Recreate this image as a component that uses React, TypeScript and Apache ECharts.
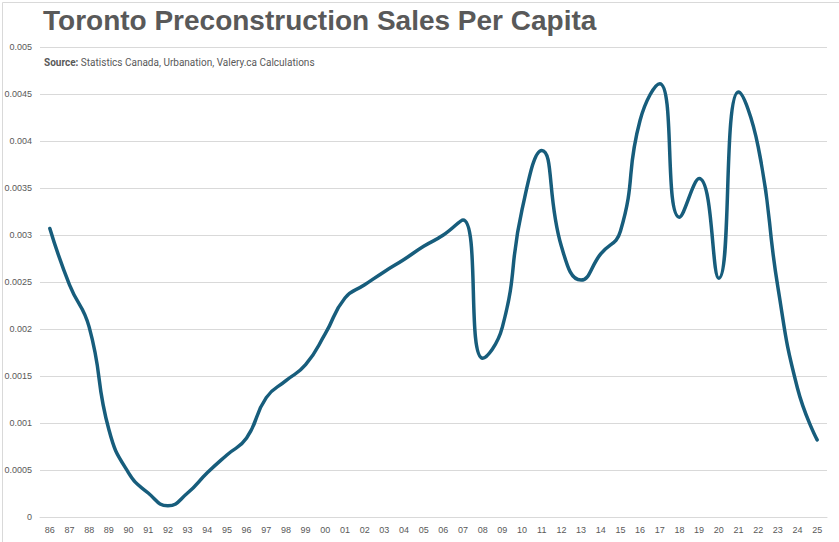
import React, { useEffect, useRef } from "react";
import * as echarts from "echarts";

const years: string[] = [
  "86", "87", "88", "89", "90", "91", "92", "93", "94", "95", "96", "97", "98", "99",
  "00", "01", "02", "03", "04", "05", "06", "07", "08", "09", "10", "11", "12", "13",
  "14", "15", "16", "17", "18", "19", "20", "21", "22", "23", "24", "25",
];

const salesPerCapita: number[] = [
  0.00307, 0.00247, 0.00202, 0.00093, 0.00047, 0.000255, 0.00012, 0.000255, 0.00047, 0.00066,
  0.00084, 0.00127, 0.00145, 0.00162, 0.00195, 0.00233, 0.00247, 0.00261, 0.00274, 0.00288,
  0.003, 0.00316, 0.00169, 0.00202, 0.00327, 0.0039, 0.00288, 0.00252, 0.0028, 0.00304,
  0.00422, 0.00461, 0.00319, 0.0036, 0.00254, 0.00452, 0.00394, 0.00245, 0.00137, 0.00082,
];

const titleText = "Toronto Preconstruction Sales Per Capita";
const sourceLabel = "Source:";
const sourceText = " Statistics Canada, Urbanation, Valery.ca Calculations";

export default function App() {
  const ref = useRef<HTMLDivElement>(null);

  useEffect(() => {
    if (!ref.current) return;
    const chart = echarts.init(ref.current, null, { renderer: "svg" });
    chart.setOption({
      animation: false,
      backgroundColor: "#ffffff",
      graphic: [
        {
          type: "rect",
          left: 0,
          top: 0,
          shape: { x: 0.5, y: 0.5, width: 838, height: 541 },
          style: { fill: "none", stroke: "#d9d9d9", lineWidth: 1 },
          silent: true,
        },
        {
          type: "text",
          left: 43,
          top: 6,
          style: {
            text: titleText,
            font: "bold 28px 'Liberation Sans', Arial, sans-serif",
            fill: "#595959",
          },
        },
        {
          type: "text",
          left: 44,
          top: 57,
          style: {
            text: "{b|" + sourceLabel + "}{n|" + sourceText + "}",
            rich: {
              b: { font: "bold 10px Roboto, sans-serif", fill: "#595959" },
              n: { font: "10px Roboto, sans-serif", fill: "#595959" },
            },
          },
        },
      ],
      grid: { left: 40, right: 12, top: 47, bottom: 25, containLabel: false },
      xAxis: {
        type: "category",
        data: years,
        boundaryGap: true,
        axisLine: { show: true, lineStyle: { color: "#d9d9d9", width: 1 } },
        axisTick: { show: false },
        axisLabel: {
          color: "#595959",
          fontSize: 9,
          fontFamily: "'Liberation Sans', Arial, sans-serif",
          margin: 8,
          interval: 0,
        },
      },
      yAxis: {
        type: "value",
        min: 0,
        max: 0.005,
        interval: 0.0005,
        axisLine: { show: false },
        axisTick: { show: false },
        splitLine: { lineStyle: { color: "#d9d9d9", width: 1 } },
        axisLabel: {
          color: "#595959",
          fontSize: 9,
          fontFamily: "'Liberation Sans', Arial, sans-serif",
          margin: 8,
          formatter: (v: number) => (v === 0 ? "0" : String(parseFloat(v.toPrecision(6)))),
        },
      },
      series: [
        {
          type: "line",
          data: salesPerCapita,
          smooth: 0.5,
          symbol: "none",
          lineStyle: { color: "#175d7c", width: 3.5, cap: "round", join: "round" },
        },
      ],
    });
    return () => chart.dispose();
  }, []);

  return (
    <div
      ref={ref}
      style={{ position: "absolute", left: 0, top: 0, width: 839, height: 542 }}
    />
  );
}
